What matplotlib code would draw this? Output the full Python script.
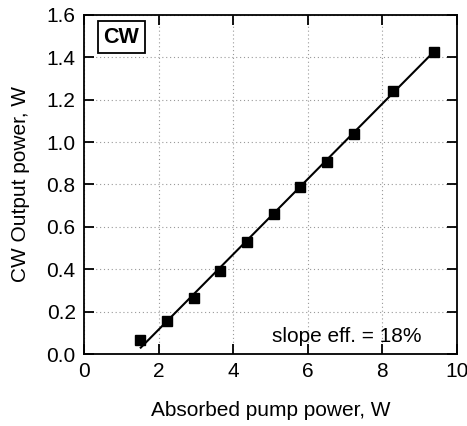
import matplotlib.pyplot as plt

plt.rcParams['font.family'] = ['Liberation Sans', 'DejaVu Sans']

# measured points (absorbed pump power, output power)
pump = [1.50, 2.22, 2.95, 3.65, 4.38, 5.09, 5.79, 6.51, 7.24, 8.29, 9.38]
output = [0.065, 0.155, 0.265, 0.392, 0.530, 0.660, 0.786, 0.907, 1.040, 1.240, 1.425]

# linear fit line, end points
fit_x = [1.52, 9.40]
fit_y = [0.03, 1.43]

fig = plt.figure(figsize=(4.67, 4.26), dpi=100)
ax = fig.add_axes([0.18, 0.169, 0.7986, 0.796])

ax.plot(fit_x, fit_y, color='black', lw=1.5, zorder=3)
ax.plot(pump, output, 's', color='black', markersize=7.5, zorder=4)

ax.set_xlim(0, 10)
ax.set_ylim(0, 1.6)
ax.set_xticks([0, 2, 4, 6, 8, 10])
ax.set_yticks([0.0, 0.2, 0.4, 0.6, 0.8, 1.0, 1.2, 1.4, 1.6])
ax.set_yticklabels([f'{v:.1f}' for v in ax.get_yticks()])
ax.tick_params(direction='in', length=7, width=1.3, top=True, right=True,
               labelsize=15)
ax.tick_params(axis='x', pad=6)
ax.tick_params(axis='y', pad=6)
for s in ax.spines.values():
    s.set_linewidth(1.3)

ax.grid(True, linestyle=(0, (1, 2.5)), color='#999999', linewidth=0.8)
ax.set_axisbelow(True)

ax.set_xlabel('Absorbed pump power, W', fontsize=15, labelpad=14)
ax.set_ylabel('CW Output power, W', fontsize=15, labelpad=12)

ax.text(0.052, 0.965, 'CW', transform=ax.transAxes, fontsize=15.5, fontweight='bold',
        va='top', ha='left',
        bbox=dict(boxstyle='square,pad=0.26', facecolor='white', edgecolor='black', linewidth=1.3))
ax.text(0.505, 0.025, 'slope eff. = 18%', transform=ax.transAxes, fontsize=15,
        va='bottom', ha='left')

fig.savefig('out.png', dpi=100)
